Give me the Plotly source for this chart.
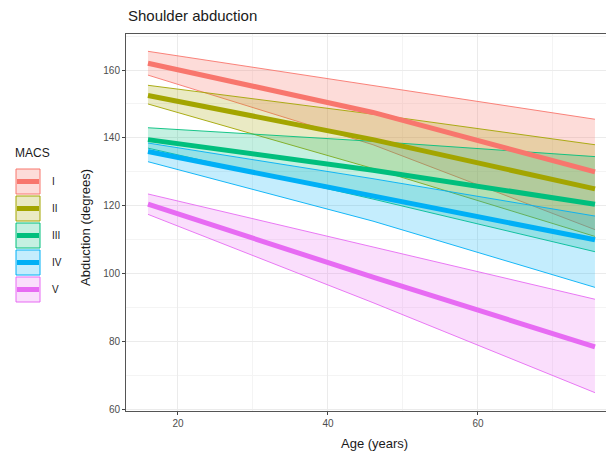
import plotly.graph_objects as go

# ---- data ----
groups = ["I", "II", "III", "IV", "V"]
colors = ["#F8766D", "#A3A500", "#00BF7D", "#00B0F6", "#E76BF3"]
fills = ["rgba(248,118,109,0.26)", "rgba(163,165,0,0.23)", "rgba(0,191,125,0.23)",
         "rgba(0,176,246,0.23)", "rgba(231,107,243,0.22)"]
age = [16, 46, 75.6]
fit_I = [162.0, 147.5, 130.0]
upr_I = [165.5, 155.5, 145.5]
lwr_I = [158.5, 138.0, 113.0]
fit_II = [152.5, 139.5, 125.0]
upr_II = [155.5, 147.0, 138.0]
lwr_II = [150.0, 131.0, 111.0]
fit_III = [139.5, 130.5, 120.5]
upr_III = [143.0, 139.0, 134.5]
lwr_III = [137.0, 122.0, 106.5]
fit_IV = [136.0, 123.0, 110.0]
upr_IV = [138.5, 128.0, 117.0]
lwr_IV = [133.0, 115.5, 96.0]
fit_V = [120.5, 99.0, 78.5]
upr_V = [123.5, 108.0, 92.5]
lwr_V = [117.5, 91.5, 65.0]

fits = [fit_I, fit_II, fit_III, fit_IV, fit_V]
uprs = [upr_I, upr_II, upr_III, upr_IV, upr_V]
lwrs = [lwr_I, lwr_II, lwr_III, lwr_IV, lwr_V]

xticks = [20, 40, 60]
yticks = [60, 80, 100, 120, 140, 160]

FONT = "Liberation Sans, Arial, sans-serif"
W, H = 606, 452
L, R, T, B = 126, 0, 34, 41
PW, PH = W - L - R, H - T - B

def px2x(px):
    return (px - L) / PW

def py2y(py):
    return (H - B - py) / PH

fig = go.Figure()

# ribbons (fill only) + upper/lower outlines
for g, c, f, up, lo in zip(groups, colors, fills, uprs, lwrs):
    fig.add_trace(go.Scatter(
        x=age + age[::-1], y=up + lo[::-1], fill="toself", fillcolor=f,
        line=dict(width=0), mode="lines", showlegend=False, hoverinfo="skip"))
    fig.add_trace(go.Scatter(x=age, y=up, mode="lines", showlegend=False,
                             line=dict(color=c, width=0.9), hoverinfo="skip"))
    fig.add_trace(go.Scatter(x=age, y=lo, mode="lines", showlegend=False,
                             line=dict(color=c, width=0.9), hoverinfo="skip"))
# fitted lines
for g, c, y in zip(groups, colors, fits):
    fig.add_trace(go.Scatter(x=age, y=y, mode="lines", name=g,
                             line=dict(color=c, width=5), showlegend=False))

# manual ggplot-like legend
shapes = []
annotations = []
kx0, kx1 = 16, 40
ky0, kh = 168, 27
for i, (g, c, f) in enumerate(zip(groups, colors, fills)):
    top = ky0 + kh * i
    bot = top + kh
    shapes.append(dict(type="rect", xref="paper", yref="paper",
                       x0=px2x(kx0), x1=px2x(kx1), y0=py2y(bot - 1), y1=py2y(top + 1),
                       fillcolor=f, line=dict(color=c, width=1)))
    mid = (top + bot) / 2
    shapes.append(dict(type="line", xref="paper", yref="paper",
                       x0=px2x(kx0 + 1), x1=px2x(kx1 - 1), y0=py2y(mid), y1=py2y(mid),
                       line=dict(color=c, width=5)))
    annotations.append(dict(text=g, xref="paper", yref="paper", x=px2x(50), y=py2y(mid),
                            xanchor="left", yanchor="middle", showarrow=False,
                            font=dict(size=10, color="#1a1a1a", family=FONT)))
annotations.append(dict(text="MACS", xref="paper", yref="paper", x=px2x(13), y=py2y(153),
                        xanchor="left", yanchor="middle", showarrow=False,
                        font=dict(size=12, color="#1a1a1a", family=FONT)))
# axis titles
annotations.append(dict(text="Abduction (degrees)", xref="paper", yref="paper",
                        x=px2x(85), y=py2y(228), textangle=-90, xanchor="center",
                        yanchor="middle", showarrow=False,
                        font=dict(size=13, color="#1a1a1a", family=FONT)))
annotations.append(dict(text="Age (years)", xref="paper", yref="paper",
                        x=px2x(374), y=py2y(443), xanchor="center", yanchor="middle",
                        showarrow=False, font=dict(size=13, color="#1a1a1a", family=FONT)))
annotations.append(dict(text="Shoulder abduction", xref="paper", yref="paper",
                        x=0, y=py2y(15), xanchor="left", yanchor="middle",
                        showarrow=False, font=dict(size=15, color="#1a1a1a", family=FONT)))

fig.update_layout(
    width=W, height=H, margin=dict(l=L, r=R, t=T, b=B, pad=0),
    paper_bgcolor="white", plot_bgcolor="white",
    font=dict(family=FONT),
    shapes=shapes, annotations=annotations, showlegend=False,
)
fig.update_xaxes(range=[13.07, 77.07], tickvals=xticks, ticks="outside", ticklen=3,
                 tickcolor="#444", tickfont=dict(size=10, color="#4d4d4d", family=FONT),
                 showgrid=True, gridcolor="#EBEBEB", gridwidth=1, zeroline=False,
                 showline=True, mirror=True, linecolor="#555", linewidth=1,
                 minor=dict(tickvals=[10, 30, 50, 70], showgrid=True, gridcolor="#F4F4F4",
                            gridwidth=0.6, ticks=""))
fig.update_yaxes(range=[59.6, 170.6], tickvals=yticks, ticks="outside", ticklen=3,
                 tickcolor="#444", tickfont=dict(size=10, color="#4d4d4d", family=FONT),
                 showgrid=True, gridcolor="#EBEBEB", gridwidth=1, zeroline=False,
                 showline=True, mirror=False, linecolor="#555", linewidth=1,
                 minor=dict(tickvals=[70, 90, 110, 130, 150, 170], showgrid=True,
                            gridcolor="#F4F4F4", gridwidth=0.6, ticks=""))

fig.write_html("out.html")
